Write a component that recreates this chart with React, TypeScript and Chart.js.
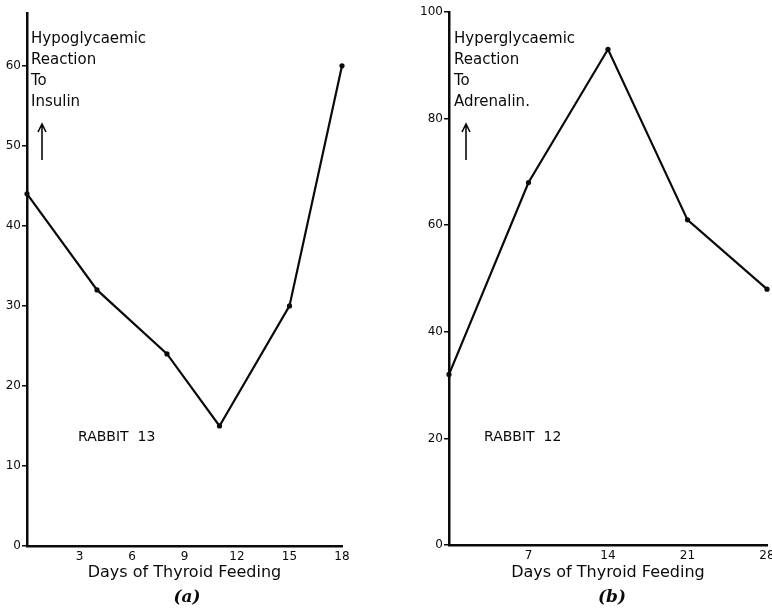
import React, { useEffect, useRef } from 'react';
import { Chart, registerables } from 'chart.js';

Chart.register(...registerables);

// ---- data ----
const daysA = [0, 4, 8, 11, 15, 18];
const insulinReaction = [44, 32, 24, 15, 30, 60];
const daysB = [0, 7, 14, 21, 28];
const adrenalinReaction = [32, 68, 93, 61, 48];
const noteA = ['Hypoglycaemic', 'Reaction', 'To', 'Insulin'];
const noteB = ['Hyperglycaemic', 'Reaction', 'To', 'Adrenalin.'];
const rabbitA = 'RABBIT  13';
const rabbitB = 'RABBIT  12';
const xTitle = 'Days of Thyroid Feeding';
const captionA = '(a)';
const captionB = '(b)';

const FONT = '"DejaVu Sans", sans-serif';
const INK = '#0a0a0a';

type PanelOpts = {
  xs: number[];
  ys: number[];
  xMax: number;
  xStep: number;
  yMax: number;
  yStep: number;
  yAxisWidth: number;
  padRight: number;
  padTop: number;
  xAxisHeight: number;
  note: string[];
  noteDx: number;
  arrowDx: number;
  rabbit: string;
  rabbitDx: number;
  caption: string;
  captionX: number;
};

function makeConfig(o: PanelOpts): any {
  const annot = {
    id: 'annot',
    afterDraw(chart: any) {
      const { ctx, chartArea: ca } = chart;
      ctx.save();
      ctx.fillStyle = INK;
      ctx.strokeStyle = INK;
      ctx.textBaseline = 'middle';
      ctx.textAlign = 'left';
      ctx.font = `15px ${FONT}`;
      o.note.forEach((t, i) => ctx.fillText(t, ca.left + o.noteDx, 39 + i * 21));
      // arrow
      const ax = ca.left + o.arrowDx;
      ctx.lineWidth = 1.6;
      ctx.beginPath();
      ctx.moveTo(ax, 124);
      ctx.lineTo(ax, 160);
      ctx.moveTo(ax - 4, 132);
      ctx.lineTo(ax, 124);
      ctx.lineTo(ax + 4, 132);
      ctx.stroke();
      // rabbit label
      ctx.font = `14px ${FONT}`;
      ctx.fillText(o.rabbit, ca.left + o.rabbitDx, 437);
      // caption
      ctx.textAlign = 'center';
      ctx.font = `italic bold 17px "DejaVu Serif", serif`;
      ctx.fillText(o.caption, o.captionX, 598);
      ctx.restore();
    },
  };

  return {
    type: 'line',
    data: {
      datasets: [
        {
          data: o.xs.map((x, i) => ({ x, y: o.ys[i] })),
          borderColor: INK,
          backgroundColor: INK,
          borderWidth: 2.2,
          pointRadius: 2.6,
          pointBackgroundColor: INK,
          pointBorderWidth: 0,
          tension: 0,
          clip: false,
        },
      ],
    },
    options: {
      animation: false,
      responsive: false,
      events: [],
      layout: { padding: { left: 0, right: o.padRight, top: o.padTop, bottom: 0 } },
      plugins: { legend: { display: false }, tooltip: { enabled: false } },
      scales: {
        x: {
          type: 'linear',
          min: 0,
          max: o.xMax,
          ticks: {
            stepSize: o.xStep,
            includeBounds: false,
            maxRotation: 0,
            autoSkip: false,
            padding: 4,
            color: INK,
            font: { family: FONT, size: 12 },
            callback: (v: number) => (v === 0 ? '' : String(v)),
          },
          grid: { display: true, drawOnChartArea: false, drawTicks: false },
          border: { display: true, color: INK, width: 2.5 },
          title: {
            display: true,
            text: xTitle,
            color: INK,
            font: { family: FONT, size: 16 },
            padding: { top: 0, bottom: 31 },
          },
          afterFit: (s: any) => {
            s.height = o.xAxisHeight;
            s.paddingLeft = 0;
            s.paddingRight = 0;
          },
        },
        y: {
          type: 'linear',
          min: 0,
          max: o.yMax,
          ticks: {
            stepSize: o.yStep,
            includeBounds: false,
            padding: 1,
            color: INK,
            font: { family: FONT, size: 12 },
          },
          grid: {
            display: true,
            drawOnChartArea: false,
            drawTicks: true,
            tickLength: 5,
            color: INK,
            lineWidth: 1.5,
          },
          border: { display: true, color: INK, width: 2.5 },
          afterFit: (s: any) => {
            s.width = o.yAxisWidth;
            s.paddingTop = 0;
            s.paddingBottom = 0;
          },
        },
      },
    },
    plugins: [annot],
  };
}

function Panel({ left, width, opts }: { left: number; width: number; opts: PanelOpts }) {
  const ref = useRef<HTMLCanvasElement>(null);
  useEffect(() => {
    if (!ref.current) return;
    const chart = new Chart(ref.current, makeConfig(opts));
    return () => chart.destroy();
  }, []);
  return (
    <canvas
      ref={ref}
      width={width}
      height={613}
      style={{ position: 'absolute', left, top: 0, width, height: 613 }}
    />
  );
}

export default function App() {
  const optsA: PanelOpts = {
    xs: daysA,
    ys: insulinReaction,
    xMax: 18,
    xStep: 3,
    yMax: 66.6,
    yStep: 10,
    yAxisWidth: 27,
    padRight: 48,
    padTop: 13,
    xAxisHeight: 67,
    note: noteA,
    noteDx: 4,
    arrowDx: 15,
    rabbit: rabbitA,
    rabbitDx: 51,
    caption: captionA,
    captionX: 187,
  };
  const optsB: PanelOpts = {
    xs: daysB,
    ys: adrenalinReaction,
    xMax: 28,
    xStep: 7,
    yMax: 100,
    yStep: 20,
    yAxisWidth: 59,
    padRight: 5,
    padTop: 12,
    xAxisHeight: 68,
    note: noteB,
    noteDx: 5,
    arrowDx: 17,
    rabbit: rabbitB,
    rabbitDx: 35,
    caption: captionB,
    captionX: 222,
  };
  return (
    <div
      style={{
        position: 'absolute',
        left: 0,
        top: 0,
        width: 772,
        height: 613,
        background: '#fff',
        overflow: 'hidden',
      }}
    >
      <Panel left={0} width={390} opts={optsA} />
      <Panel left={390} width={382} opts={optsB} />
    </div>
  );
}
